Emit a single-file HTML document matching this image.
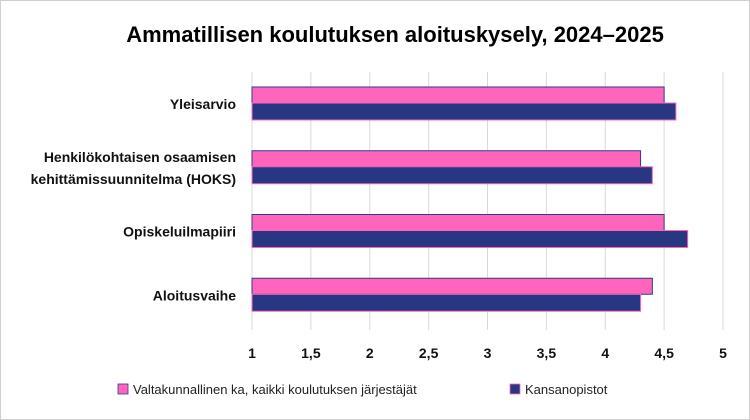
<!DOCTYPE html>
<html><head><meta charset="utf-8"><style>
body{margin:0;background:#fff}
svg{font-family:"Liberation Sans",sans-serif;display:block}
</style></head><body>
<svg id="chart" width="750" height="420">
<rect x="0.5" y="0.5" width="749" height="419" fill="#fff" stroke="#d0d0d0"/>
<text x="395" y="42" text-anchor="middle" font-size="22" font-weight="bold" fill="#000">Ammatillisen koulutuksen aloituskysely, 2024–2025</text>
<g id="grid"></g><g id="bars"></g><g id="labels"></g>
<g>
<rect x="118" y="384" width="10" height="10" fill="#ff66bb" stroke="#2e3a8c" stroke-width="0.8"/>
<text x="133" y="394" font-size="13" fill="#222">Valtakunnallinen ka, kaikki koulutuksen järjestäjät</text>
<rect x="510" y="384" width="10" height="10" fill="#283782" stroke="#ff66bb" stroke-width="0.8"/>
<text x="525" y="394" font-size="13" fill="#222">Kansanopistot</text>
</g>
</svg>
<script>
const categories=["Yleisarvio","Henkilökohtaisen osaamisen|kehittämissuunnitelma (HOKS)","Opiskeluilmapiiri","Aloitusvaihe"];
const national=[4.5,4.3,4.5,4.4];
const kansanopistot=[4.6,4.4,4.7,4.3];
const ticks=[1,1.5,2,2.5,3,3.5,4,4.5,5];
const tickLabels=["1","1,5","2","2,5","3","3,5","4","4,5","5"];
const NS="http://www.w3.org/2000/svg";
const x0=252,x1=723,y0=72,y1=327,vmin=1,vmax=5;
const xs=v=>x0+(v-vmin)/(vmax-vmin)*(x1-x0);
const band=(y1-y0)/categories.length;
function mk(t,a,p){const e=document.createElementNS(NS,t);for(const k in a)e.setAttribute(k,a[k]);p.appendChild(e);return e;}
const grid=document.getElementById('grid'),bars=document.getElementById('bars'),labels=document.getElementById('labels');
ticks.forEach((t,i)=>{
 const l=mk('line',{x1:xs(t),x2:xs(t),y1:y0,y2:y1+3,stroke:'#d9d9d9','stroke-width':1},grid);
 
 
 const tx=mk('text',{x:xs(t),y:358,'text-anchor':'middle','font-size':14,'font-weight':'bold',fill:'#111'},labels);
 tx.textContent=tickLabels[i];
 
 
});
categories.forEach((c,i)=>{
 const top=y0+i*band+15;
 const b1=mk('rect',{x:x0,y:top,width:xs(national[i])-x0,height:16,fill:'#ff66bb',stroke:'#2e3a8c','stroke-width':1},bars);
 
 
 const b2=mk('rect',{x:x0,y:top+16,width:xs(kansanopistot[i])-x0,height:17,fill:'#283782',stroke:'#ff66bb','stroke-width':1},bars);
 
 
 const lines=c.split('|');const cy=top+17;
 lines.forEach((ln,j)=>{
  const t=mk('text',{x:236,y:cy+5+(j-(lines.length-1)/2)*22,'text-anchor':'end','font-size':14,'font-weight':'bold',fill:'#111'},labels);
  t.textContent=ln;
  
  
 });
});
</script>
</body></html>
